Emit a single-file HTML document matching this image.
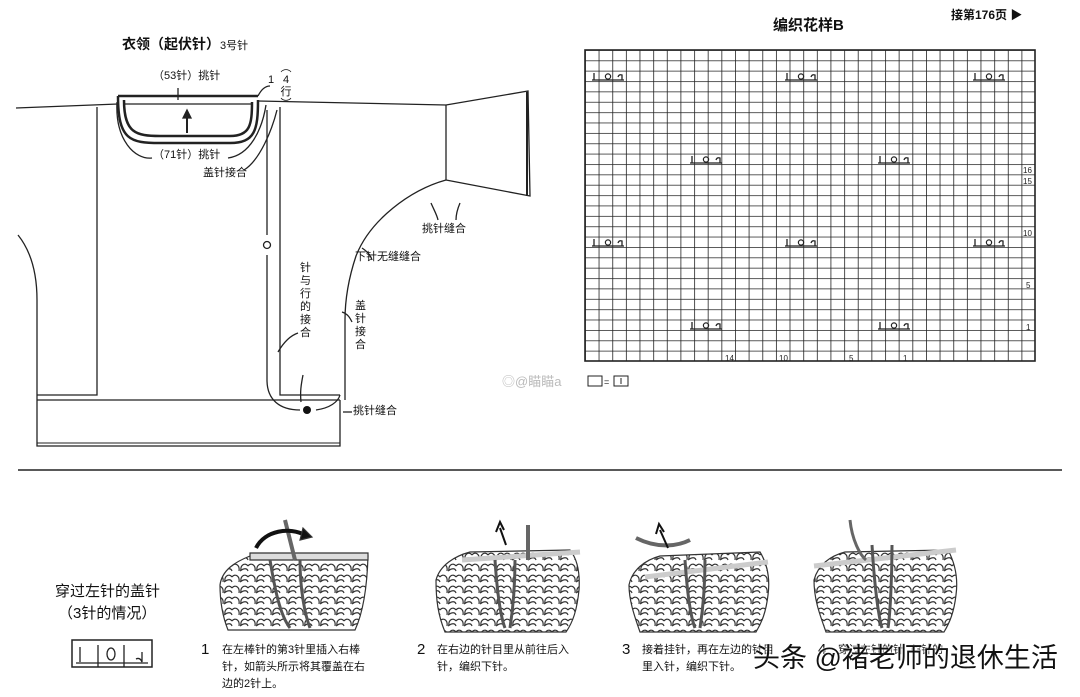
<!DOCTYPE html>
<html><head><meta charset="utf-8">
<style>
html,body{margin:0;padding:0;background:#fff;}
body{width:1080px;height:697px;overflow:hidden;position:relative;font-family:"Liberation Sans","Noto Sans CJK SC",sans-serif;color:#111;}
.t{position:absolute;white-space:nowrap;line-height:1;}
</style></head><body>
<svg width="1080" height="697" viewBox="0 0 1080 697" xmlns="http://www.w3.org/2000/svg" style="position:absolute;left:0;top:0">
<defs>
<pattern id="grid" x="585" y="50" width="13.64" height="10.37" patternUnits="userSpaceOnUse">
<path d="M0 0H13.64M0 0V10.37" stroke="#222" stroke-width="1.6" fill="none"/>
</pattern>
<pattern id="knit" x="0" y="0" width="16" height="11" patternUnits="userSpaceOnUse">
<path d="M1 10 C0 4,5 1,8 5 M8 5 C11 1,16 4,15 10 M0 10 C4 7,7 7,8 10" stroke="#333" stroke-width="1.2" fill="none"/>
</pattern>
<g id="lob">
<path d="M0 9 H32 M2 2 V9 M30 9 V4 q-3 -1 -4 2" stroke="#222" stroke-width="1.3" fill="none"/>
<circle cx="16" cy="5.5" r="2.6" stroke="#222" stroke-width="1.2" fill="none"/>
</g>
</defs>

<g stroke="#222" stroke-width="1.3" fill="none">
<path d="M16 108 L118 104 M258 101 L446 105 L528 91 L530 196 L446 180"/>
<path d="M446 105 V180"/>
<path d="M527 92 V196" stroke-width="2"/>
<path d="M446 180 C410 190 370 220 356 256 C348 280 345 300 345 320 V400"/>
<path d="M97 107 V395 H37"/>
<path d="M18 235 C30 250 37 270 37 300 V446 H340 V400"/>
<path d="M37 443 H340" stroke-width="1"/>
<path d="M37 400 H340"/>
<path d="M280 107 V395 H340"/>
<path d="M267 110 V235 M267 255 V380 C267 400 280 410 300 410"/>
<path d="M316 410 C330 408 338 402 340 395"/>
<circle cx="267" cy="245" r="3.5"/>
<path d="M118 96 H258" stroke-width="2.5"/>
<path d="M118 96 C118 140 130 143 160 143 H230 C255 143 258 130 258 100" stroke-width="2.5"/>
<path d="M124 100 C124 133 136 136 160 136 H230 C250 136 252 125 252 102" stroke-width="2.5"/>
<path d="M124 104 H252" stroke-width="1.2"/>
<path d="M187 133 V115" stroke-width="2"/>
<path d="M183 118 L187 110 L191 118 Z" fill="#222"/>
<path d="M117 102 C115 140 135 160 152 158"/>
<path d="M228 158 C250 155 262 130 266 105"/>
<path d="M244 170 C260 160 272 130 277 110"/>
<path d="M178 88 V100"/>
<path d="M258 96 C262 88 266 86 270 86"/>
<path d="M431 203 C434 210 437 215 438 220 M460 203 C457 210 456 215 456 220"/>
<path d="M362 248 C368 252 371 256 372 260"/>
<path d="M278 352 C285 340 292 335 298 333"/>
<path d="M303 375 C301 385 300 392 301 402"/>
<path d="M342 312 C348 314 350 318 352 322"/>
<path d="M343 412 H352"/>
</g>
<circle cx="307" cy="410" r="4" fill="#111"/>

<rect x="585" y="50" width="450" height="311" fill="url(#grid)"/>
<rect x="585" y="50" width="450" height="311" fill="none" stroke="#222" stroke-width="1.6"/>
<use href="#lob" x="592" y="71"/>
<use href="#lob" x="785" y="71"/>
<use href="#lob" x="973" y="71"/>
<use href="#lob" x="690" y="154"/>
<use href="#lob" x="878" y="154"/>
<use href="#lob" x="592" y="237"/>
<use href="#lob" x="785" y="237"/>
<use href="#lob" x="973" y="237"/>
<use href="#lob" x="690" y="320"/>
<use href="#lob" x="878" y="320"/>
<g font-size="8" fill="#222" font-family="Liberation Sans,sans-serif">
<text x="1023" y="173">16</text><text x="1023" y="184">15</text>
<text x="1023" y="236">10</text><text x="1026" y="288">5</text><text x="1026" y="330">1</text>
<text x="725" y="361">14</text><text x="779" y="361">10</text><text x="849" y="361">5</text><text x="903" y="361">1</text>
</g>
<rect x="588" y="376" width="14" height="10" fill="none" stroke="#222"/>
<text x="604" y="385" font-size="9" fill="#222">=</text>
<rect x="614" y="376" width="14" height="10" fill="none" stroke="#222"/>
<path d="M621 378 V384" stroke="#222"/>

<line x1="18" y1="470" x2="1062" y2="470" stroke="#222" stroke-width="1.5"/>

<rect x="72" y="640" width="80" height="27" fill="none" stroke="#222" stroke-width="1.5"/>
<path d="M76 663 H148 M98 645 V667 M124 645 V667 M80 647 V662 M142 652 V662 q-2 -5 -6 -3" stroke="#222" stroke-width="1.3" fill="none"/>
<ellipse cx="111" cy="654" rx="4" ry="6" fill="none" stroke="#222" stroke-width="1.3"/>

<g stroke="#333" stroke-width="1.2">
<path d="M220 585 C222 570 235 562 250 556 L368 556 C367 590 362 615 355 630 L228 630 C222 615 220 600 220 585 Z" fill="url(#knit)"/>
<path d="M436 580 C440 565 455 556 470 552 L570 550 C578 560 580 575 579 590 C577 610 573 622 566 632 L445 632 C438 615 436 600 436 580 Z" fill="url(#knit)"/>
<path d="M629 585 C632 570 645 560 660 556 L760 552 C768 565 770 580 768 595 C766 612 762 622 756 632 L640 632 C634 615 629 600 629 585 Z" fill="url(#knit)"/>
<path d="M814 580 C818 565 830 556 845 552 L948 550 C956 565 958 580 956 595 C954 612 950 622 944 632 L826 632 C820 615 814 600 814 580 Z" fill="url(#knit)"/>
<path d="M250 553 H368 V560 H250 Z" fill="#ddd"/>
<path d="M462 560 L580 552" stroke-width="5" stroke="#ccc"/>
<path d="M645 577 L768 562" stroke-width="5" stroke="#ccc"/>
<path d="M814 566 L956 550" stroke-width="5" stroke="#ccc"/>
<path d="M270 560 C275 590 280 615 290 628 M300 560 C300 590 305 615 310 628" stroke="#555" stroke-width="3" fill="none"/>
<path d="M495 560 C497 590 500 615 505 628 M515 560 C515 590 512 615 510 628" stroke="#555" stroke-width="3" fill="none"/>
<path d="M685 560 C687 590 690 615 695 628 M705 560 C705 590 702 615 700 628" stroke="#555" stroke-width="3" fill="none"/>
<path d="M872 545 C874 580 878 615 882 628 M892 545 C892 580 890 615 888 628" stroke="#555" stroke-width="3" fill="none"/>
<path d="M285 520 L295 560" stroke="#666" stroke-width="4"/>
<path d="M528 525 V560 M636 538 C660 550 680 545 690 540" stroke="#666" stroke-width="4" fill="none"/>
<path d="M850 520 C852 540 860 555 866 560" stroke="#666" stroke-width="3" fill="none"/>
<path d="M256 548 C265 530 290 527 305 535" stroke="#111" stroke-width="4" fill="none"/>
<path d="M303 528 L312 537 L300 540 Z" fill="#111"/>
<path d="M506 545 L500 528 M496 532 L500 522 L504 530" stroke="#111" stroke-width="2" fill="none"/>
<path d="M668 548 L660 530 M656 534 L659 524 L664 532" stroke="#111" stroke-width="2" fill="none"/>
</g>
</svg>

<div class="t" style="left:122px;top:37px;font-size:14px;font-weight:bold;">衣领（起伏针）<span style="font-size:11px;font-weight:normal">3号针</span></div>
<div class="t" style="left:153px;top:71px;font-size:11px;">（53针）挑针</div>
<div class="t" style="left:268px;top:75px;font-size:11px;">1</div>
<div class="t" style="left:280px;top:62px;font-size:11px;line-height:12px;white-space:normal;width:12px;text-align:center;">︵<br>4<br>行<br>︶</div>
<div class="t" style="left:153px;top:150px;font-size:11px;">（71针）挑针</div>
<div class="t" style="left:203px;top:168px;font-size:11px;">盖针接合</div>
<div class="t" style="left:422px;top:224px;font-size:11px;">挑针缝合</div>
<div class="t" style="left:355px;top:252px;font-size:11px;">下针无缝缝合</div>
<div class="t" style="left:300px;top:262px;font-size:11px;width:12px;white-space:normal;line-height:13px;">针与行的接合</div>
<div class="t" style="left:355px;top:300px;font-size:11px;width:12px;white-space:normal;line-height:13px;">盖针接合</div>
<div class="t" style="left:353px;top:406px;font-size:11px;">挑针缝合</div>
<div class="t" style="left:773px;top:18px;font-size:15px;font-weight:bold;">编织花样B</div>
<div class="t" style="left:951px;top:9px;font-size:12px;font-weight:bold;">接第176页 ▶</div>
<div class="t" style="left:502px;top:375px;font-size:13px;color:#bbb;">◎@瞄瞄a</div>
<div class="t" style="left:55px;top:584px;font-size:15px;">穿过左针的盖针</div>
<div class="t" style="left:58px;top:606px;font-size:15px;">（3针的情况）</div>
<div class="t" style="left:201px;top:642px;font-size:15px;">1</div>
<div class="t" style="left:222px;top:642px;font-size:11px;line-height:17px;">在左棒针的第3针里插入右棒<br>针，如箭头所示将其覆盖在右<br>边的2针上。</div>
<div class="t" style="left:417px;top:642px;font-size:15px;">2</div>
<div class="t" style="left:437px;top:642px;font-size:11px;line-height:17px;">在右边的针目里从前往后入<br>针，编织下针。</div>
<div class="t" style="left:622px;top:642px;font-size:15px;">3</div>
<div class="t" style="left:642px;top:642px;font-size:11px;line-height:17px;">接着挂针，再在左边的针目<br>里入针，编织下针。</div>
<div class="t" style="left:818px;top:642px;font-size:15px;">4</div>
<div class="t" style="left:838px;top:642px;font-size:11px;line-height:17px;">穿过左针的针（3针的</div>
<div class="t" style="left:753px;top:645px;font-size:27px;color:#111;text-shadow:0 0 2px #fff,0 0 2px #fff;">头条 @褚老师的退休生活</div>
</body></html>
